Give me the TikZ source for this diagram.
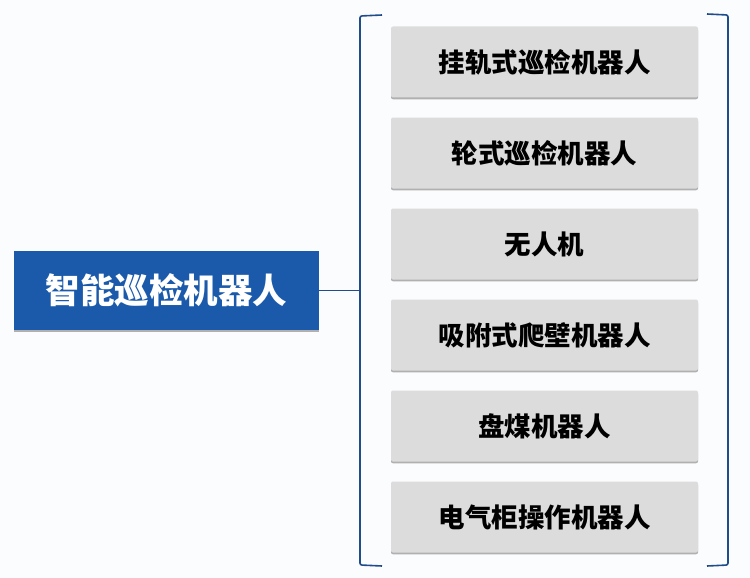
\documentclass[tikz,border=0pt]{standalone}
\usepackage{fontspec}
\newfontfamily\cjk{Noto Sans CJK SC}
\usetikzlibrary{positioning,calc,shadows}
\definecolor{mainblue}{HTML}{1B5AAA}
\definecolor{boxgray}{HTML}{DCDCDC}
\definecolor{shadowgray}{HTML}{B0B0B0}
\definecolor{bracketblue}{HTML}{1F4C8A}
\definecolor{paper}{HTML}{FBFCFE}

\begin{document}
\begin{tikzpicture}[x=1pt,y=-1pt,
    rootbox/.style={fill=mainblue, text=white, minimum width=305pt, minimum height=79pt, inner sep=0pt,
        font=\cjk\bfseries\fontsize{34.5}{38}\selectfont,
        drop shadow={shadow xshift=0pt, shadow yshift=-1.8pt, fill=shadowgray, opacity=1}},
    itembox/.style={fill=boxgray, rounded corners=2pt, minimum width=307pt, minimum height=71pt, inner sep=0pt,
        font=\cjk\bfseries\fontsize{26.5}{30}\selectfont,
        drop shadow={shadow xshift=0pt, shadow yshift=-1.8pt, fill=shadowgray, opacity=1}},
    bracket/.style={draw=bracketblue, line width=1.6pt, rounded corners=2pt}
]
    % Background
    \fill[paper] (0,0) rectangle (750,578);
    \useasboundingbox (0,0) rectangle (750,578);

    % Root
    \node[rootbox] (root) at (166.5,290.5) {智能巡检机器人};

    % Items
    \foreach \i/\t in {0/挂轨式巡检机器人, 1/轮式巡检机器人, 2/无人机, 3/吸附式爬壁机器人, 4/盘煤机器人, 5/电气柜操作机器人} {
        \node[itembox] (item\i) at (544.5,62+91*\i) {\t};
    }

    % Brackets
    \coordinate (brL) at (360,290.5);
    \draw[bracket] (382,15) -- (360,16) -- (360,565) -- (382,566);
    \draw[bracket] (707,14) -- (728,15) -- (728,565) -- (707,566);

    % Connector
    \draw[bracketblue, line width=1.2pt] (root.east) -- (brL);
\end{tikzpicture}
\end{document}
